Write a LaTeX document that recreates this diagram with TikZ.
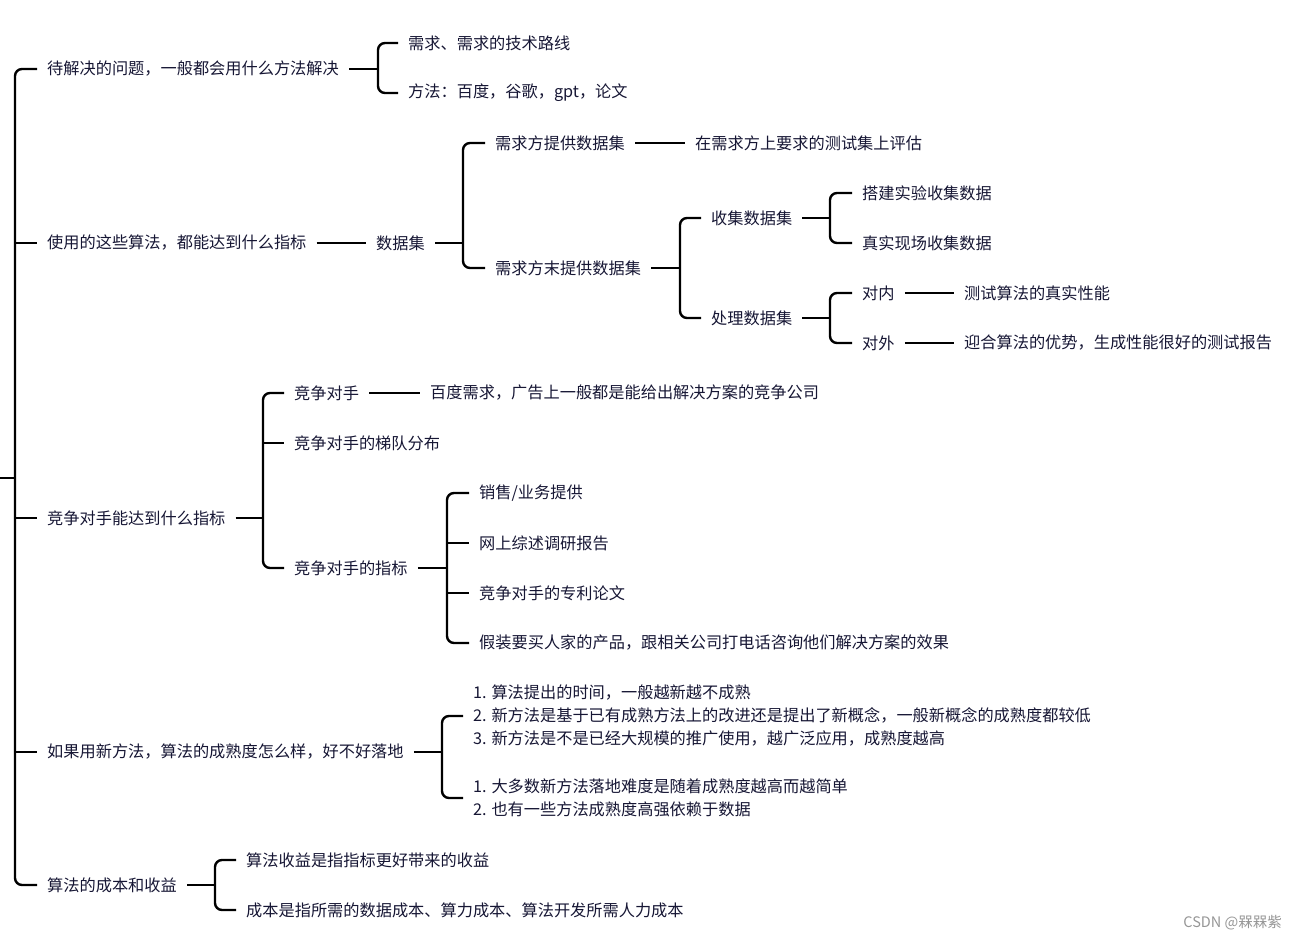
\documentclass[tikz,border=0pt]{standalone}
\usepackage{fontspec}
\setmainfont{Noto Sans CJK SC}
\usetikzlibrary{positioning}
\definecolor{topicink}{RGB}{22,22,52}
\definecolor{markgray}{RGB}{150,150,150}

\begin{document}
\begin{tikzpicture}[
            x=1pt, y=-1pt,
            topic/.style={anchor=west, inner xsep=10pt, inner ysep=2pt, text=topicink,
                          font=\fontsize{16.2}{23}\selectfont},
            multi/.style={topic, align=left},
            branch/.style={draw=black, line width=2.4pt, rounded corners=7pt},
            link/.style={draw=black, line width=2.2pt}
        ]
            \useasboundingbox (0,0) rectangle (1296,941);

            % --- Root bracket ---
            \coordinate (root) at (0,478);
            \coordinate (rb) at (15,478);

            % --- First level topics ---
            \node[topic] (q1) at (37,69) {待解决的问题，一般都会用什么方法解决};
            \node[topic] (q2) at (37,243) {使用的这些算法，都能达到什么指标};
            \node[topic] (q3) at (37,518) {竞争对手能达到什么指标};
            \node[topic] (q4) at (37,752) {如果用新方法，算法的成熟度怎么样，好不好落地};
            \node[topic] (q5) at (37,885) {算法的成本和收益};

            \draw[link] (root) -- (rb);
            \draw[branch] (q1.west) -| (rb) |- (q5.west);
            \draw[link] (rb|-q2.west) -- (q2.west);
            \draw[link] (rb|-q3.west) -- (q3.west);
            \draw[link] (rb|-q4.west) -- (q4.west);

            % --- Problem to solve ---
            \coordinate (b1) at (378,69);
            \node[topic] (q1a) at (398,43) {需求、需求的技术路线};
            \node[topic] (q1b) at (398,93) {方法：百度，谷歌，gpt，论文};
            \draw[link] (q1.east) -- (b1);
            \draw[branch] (q1a.west) -| (b1) |- (q1b.west);

            % --- Metrics of the algorithms ---
            \node[topic] (data) at (366,243) {数据集};
            \draw[link] (q2.east) -- (data.west);

            \coordinate (b2) at (463,243);
            \node[topic] (d1) at (485,143) {需求方提供数据集};
            \node[topic] (d2) at (485,268) {需求方末提供数据集};
            \draw[link] (data.east) -- (b2);
            \draw[branch] (d1.west) -| (b2) |- (d2.west);

            \node[topic] (eval) at (685,143) {在需求方上要求的测试集上评估};
            \draw[link] (d1.east) -- (eval.west);

            \coordinate (b3) at (680,268);
            \node[topic] (collect) at (701,218) {收集数据集};
            \node[topic] (process) at (701,318) {处理数据集};
            \draw[link] (d2.east) -- (b3);
            \draw[branch] (collect.west) -| (b3) |- (process.west);

            \coordinate (b4) at (830,218);
            \node[topic] (c1) at (852,193) {搭建实验收集数据};
            \node[topic] (c2) at (852,243) {真实现场收集数据};
            \draw[link] (collect.east) -- (b4);
            \draw[branch] (c1.west) -| (b4) |- (c2.west);

            \coordinate (b5) at (830,318);
            \node[topic] (p1) at (852,293) {对内};
            \node[topic] (p2) at (852,343) {对外};
            \draw[link] (process.east) -- (b5);
            \draw[branch] (p1.west) -| (b5) |- (p2.west);

            \node[topic] (p1r) at (954,293) {测试算法的真实性能};
            \node[topic] (p2r) at (954,343) {迎合算法的优势，生成性能很好的测试报告};
            \draw[link] (p1.east) -- (p1r.west);
            \draw[link] (p2.east) -- (p2r.west);

            % --- Competitors ---
            \coordinate (b6) at (263,518);
            \node[topic] (r1) at (284,393) {竞争对手};
            \node[topic] (r2) at (284,443) {竞争对手的梯队分布};
            \node[topic] (r3) at (284,568) {竞争对手的指标};
            \draw[link] (q3.east) -- (b6);
            \draw[branch] (r1.west) -| (b6) |- (r3.west);
            \draw[link] (b6|-r2.west) -- (r2.west);

            \node[topic] (r1r) at (420,393) {百度需求，广告上一般都是能给出解决方案的竞争公司};
            \draw[link] (r1.east) -- (r1r.west);

            \coordinate (b7) at (447,568);
            \node[topic] (m1) at (469,493) {销售/业务提供};
            \node[topic] (m2) at (469,543) {网上综述调研报告};
            \node[topic] (m3) at (469,593) {竞争对手的专利论文};
            \node[topic] (m4) at (469,643) {假装要买人家的产品，跟相关公司打电话咨询他们解决方案的效果};
            \draw[link] (r3.east) -- (b7);
            \draw[branch] (m1.west) -| (b7) |- (m4.west);
            \draw[link] (b7|-m2.west) -- (m2.west);
            \draw[link] (b7|-m3.west) -- (m3.west);

            % --- New methods ---
            \coordinate (b8) at (442,752);
            \node[multi] (n1) at (463,716) {1. 算法提出的时间，一般越新越不成熟\\
                2. 新方法是基于已有成熟方法上的改进还是提出了新概念，一般新概念的成熟度都较低\\
                3. 新方法是不是已经大规模的推广使用，越广泛应用，成熟度越高};
            \node[multi] (n2) at (463,798) {1. 大多数新方法落地难度是随着成熟度越高而越简单\\
                2. 也有一些方法成熟度高强依赖于数据};
            \draw[link] (q4.east) -- (b8);
            \draw[branch] (n1.west) -| (b8) |- (n2.west);

            % --- Cost and benefit ---
            \coordinate (b9) at (215,885);
            \node[topic] (s1) at (236,860) {算法收益是指指标更好带来的收益};
            \node[topic] (s2) at (236,910) {成本是指所需的数据成本、算力成本、算法开发所需人力成本};
            \draw[link] (q5.east) -- (b9);
            \draw[branch] (s1.west) -| (b9) |- (s2.west);

            % --- Watermark ---
            \node[anchor=east, inner sep=0pt, text=markgray, font=\fontsize{14.5}{16}\selectfont]
                (mark) at (1282,923) {CSDN @槑槑紫};

        \end{tikzpicture}
\end{document}
